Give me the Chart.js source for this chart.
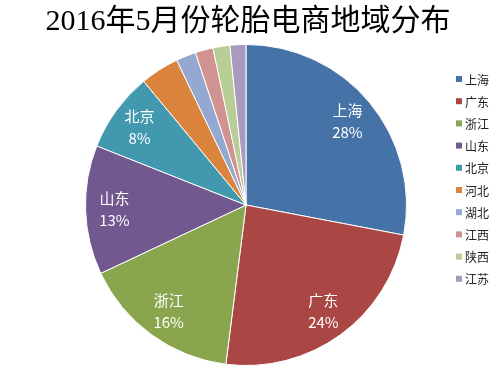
<!DOCTYPE html>
<html>
<head>
<meta charset="utf-8">
<script src="https://cdn.jsdelivr.net/npm/chart.js@4"></script>
<style>
  html, body { margin: 0; padding: 0; background: #fff; }
  #wrap { width: 500px; height: 372px; }
</style>
</head>
<body>
<div id="wrap"><canvas id="pieChart" width="500" height="372"></canvas></div>
<script>
// Data
const regions = ['上海', '广东', '浙江', '山东', '北京', '河北', '湖北', '江西', '陕西', '江苏'];
const shares = [28, 24, 16, 13, 8, 3.9, 2.0, 1.8, 1.7, 1.6];
const shareLabels = ['28%', '24%', '16%', '13%', '8%', '', '', '', '', ''];
const colors = ['#4572A7', '#AA4643', '#89A54E', '#71588F', '#4198AF',
                '#DB843D', '#93A9CF', '#D19392', '#B9CD96', '#A99BBD'];
const titleText = '2016年5月份轮胎电商地域分布';

const cjkSans = '"Noto Sans CJK SC", "Noto Sans", sans-serif';

// Title, in-slice labels and the legend on the right
const decorPlugin = {
  id: 'decor',
  afterDraw(chart) {
    const c = chart.ctx;
    c.save();
    c.fillStyle = '#000';
    c.textAlign = 'center';
    c.textBaseline = 'middle';
    c.font = '30px "Liberation Serif", "DejaVu Serif", "Noto Sans CJK SC", serif';
    c.fillText(titleText, 248, 22);

    // slice labels
    const meta = chart.getDatasetMeta(0);
    c.fillStyle = '#fff';
    c.font = '15px ' + cjkSans;
    meta.data.forEach((arc, i) => {
      if (!shareLabels[i]) return;
      const mid = (arc.startAngle + arc.endAngle) / 2;
      const r = arc.outerRadius * 0.82;
      const x = arc.x + Math.cos(mid) * r;
      const y = arc.y + Math.sin(mid) * r;
      c.fillText(regions[i], x, y - 11);
      c.fillText(shareLabels[i], x, y + 11);
    });

    // legend
    c.textAlign = 'left';
    c.font = '12px ' + cjkSans;
    regions.forEach((name, i) => {
      const y = 79 + i * 22.2;
      c.fillStyle = colors[i];
      c.fillRect(456, y - 3, 6, 6);
      c.fillStyle = '#222';
      c.fillText(name, 465, y + 1);
    });
    c.restore();
  }
};

new Chart(document.getElementById('pieChart'), {
  type: 'pie',
  data: {
    labels: regions,
    datasets: [{
      data: shares,
      backgroundColor: colors,
      borderColor: '#fff',
      borderWidth: 1
    }]
  },
  options: {
    responsive: false,
    animation: false,
    layout: { padding: { top: 44, bottom: 6, left: 0, right: 8 } },
    plugins: {
      legend: { display: false },
      tooltip: { enabled: false }
    }
  },
  plugins: [decorPlugin]
});
</script>
</body>
</html>
